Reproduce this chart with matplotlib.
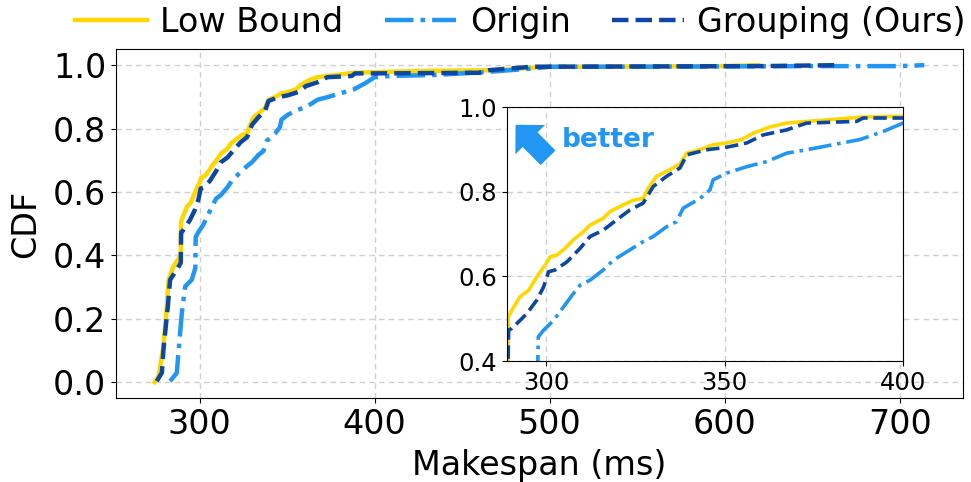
import numpy as np
import matplotlib
matplotlib.use("Agg")
import matplotlib.pyplot as plt

# ---------------- data ----------------
low_x = [274.3, 276.6, 279.4, 281.3, 282.3, 285.1, 289.3, 289.4, 290.4, 292.7, 295.1, 297.4,
         300.0, 301.1, 303.0, 305.3, 307.6, 310.4, 312.3, 316.0, 317.9, 320.7, 324.4, 327.2,
         328.6, 330.9, 334.7, 337.5, 339.4, 343.1, 346.8, 350.6, 354.8, 358.0, 362.7, 367.4,
         373.0, 379.5, 387.9, 400.0, 430.0, 470.0, 495.0, 520.0, 560.0, 600.0, 619.0]
low_y = [0.000, 0.019, 0.113, 0.239, 0.323, 0.365, 0.400, 0.504, 0.520, 0.552, 0.567, 0.599,
         0.630, 0.646, 0.650, 0.666, 0.686, 0.705, 0.721, 0.737, 0.753, 0.765, 0.780, 0.784,
         0.808, 0.836, 0.852, 0.866, 0.891, 0.899, 0.911, 0.915, 0.923, 0.938, 0.953, 0.962,
         0.966, 0.970, 0.976, 0.978, 0.982, 0.984, 0.994, 0.995, 0.996, 0.997, 1.000]

origin_x = [283.2, 287.0, 288.6, 289.9, 291.8, 295.6, 297.6, 297.8, 299.3, 302.1, 304.9, 307.6,
            309.5, 312.3, 316.0, 318.8, 322.6, 327.2, 330.0, 333.7, 336.5, 338.4, 343.1, 345.9,
            346.8, 350.6, 356.2, 361.8, 367.4, 373.0, 380.4, 387.9, 394.4, 400.0, 410.0, 434.5,
            465.0, 491.6, 500.0, 550.0, 600.0, 650.0, 700.0, 714.0]
origin_y = [0.003, 0.029, 0.134, 0.218, 0.302, 0.323, 0.360, 0.457, 0.473, 0.496, 0.528, 0.559,
            0.579, 0.591, 0.615, 0.638, 0.658, 0.682, 0.694, 0.717, 0.729, 0.761, 0.784, 0.804,
            0.828, 0.844, 0.859, 0.871, 0.891, 0.899, 0.911, 0.923, 0.942, 0.962, 0.966, 0.969,
            0.979, 0.990, 0.995, 0.995, 0.996, 0.997, 0.997, 1.000]

group_x = [275.6, 278.5, 279.4, 281.9, 283.2, 287.0, 289.3, 289.5, 290.4, 292.7, 294.6, 297.4,
           299.3, 300.7, 302.5, 305.8, 309.5, 312.3, 316.0, 319.7, 323.5, 327.2, 330.0, 333.7,
           337.5, 339.4, 345.0, 350.6, 356.2, 360.8, 367.4, 373.0, 387.0, 388.8, 400.0, 434.0,
           460.0, 465.0, 490.0, 560.0, 620.0, 665.0]
group_y = [0.003, 0.030, 0.103, 0.239, 0.323, 0.355, 0.376, 0.473, 0.477, 0.496, 0.512, 0.544,
           0.575, 0.611, 0.615, 0.634, 0.666, 0.694, 0.709, 0.733, 0.757, 0.773, 0.812, 0.836,
           0.856, 0.887, 0.899, 0.905, 0.915, 0.934, 0.946, 0.962, 0.966, 0.974, 0.974, 0.975,
           0.976, 0.984, 0.995, 0.996, 0.997, 1.000]

series_names = ["Low Bound", "Origin", "Grouping (Ours)"]
x_ticks_main = [300, 400, 500, 600, 700]
y_ticks_main = [0.0, 0.2, 0.4, 0.6, 0.8, 1.0]
x_ticks_inset = [300, 350, 400]
y_ticks_inset = [0.4, 0.6, 0.8, 1.0]

# ---------------- styling ----------------
C_LOW = "#FFD700"
C_ORI = "#2196F3"
C_GRP = "#0D47A1"
FS = 24

plt.rcParams['font.family'] = ['DejaVu Sans']

fig = plt.figure(figsize=(9.71, 4.82), dpi=100)
ax = fig.add_axes([0.1195, 0.1743, 0.872, 0.7234])

def draw(a, lw):
    a.plot(low_x, low_y, color=C_LOW, lw=lw, ls='-', label=series_names[0])
    a.plot(origin_x, origin_y, color=C_ORI, lw=lw, ls='-.', label=series_names[1])
    a.plot(group_x, group_y, color=C_GRP, lw=lw, ls='--', label=series_names[2])
    a.grid(True, ls=(0, (4, 3)), color='#d0d0d0', lw=1.0)
    a.set_axisbelow(True)

draw(ax, 3.2)
ax.set_xticks(x_ticks_main)
ax.set_yticks(y_ticks_main)
ax.set_yticklabels([f"{v:.1f}" for v in y_ticks_main])
ax.tick_params(labelsize=FS)
ax.set_xlabel("Makespan (ms)", fontsize=FS, labelpad=6)
ax.set_ylabel("CDF", fontsize=FS, labelpad=8)

# inset
axi = fig.add_axes([0.522, 0.251, 0.408, 0.527])
draw(axi, 2.6)
axi.set_xlim(289, 400)
axi.set_ylim(0.4, 1.0)
axi.set_xticks(x_ticks_inset)
axi.set_yticks(y_ticks_inset)
axi.set_yticklabels([f"{v:.1f}" for v in y_ticks_inset])
axi.tick_params(labelsize=17.5)

axi.annotate('', xy=(0.022, 0.93), xytext=(0.104, 0.80), xycoords='axes fraction',
             arrowprops=dict(arrowstyle='simple,head_length=0.75,head_width=1.5,tail_width=0.75',
                             color=C_ORI, mutation_scale=20, shrinkA=0, shrinkB=0, lw=0))
axi.text(0.138, 0.87, "better", transform=axi.transAxes, color=C_ORI, fontsize=19,
         fontweight='bold', va='center', ha='left')

handles, labels = ax.get_legend_handles_labels()
fig.legend(handles, labels, ncol=3, loc='upper center', bbox_to_anchor=(0.536, 1.05),
           frameon=False, fontsize=FS, handlelength=2.15, handletextpad=0.4,
           columnspacing=1.25)

fig.savefig("out.png", dpi=100)
